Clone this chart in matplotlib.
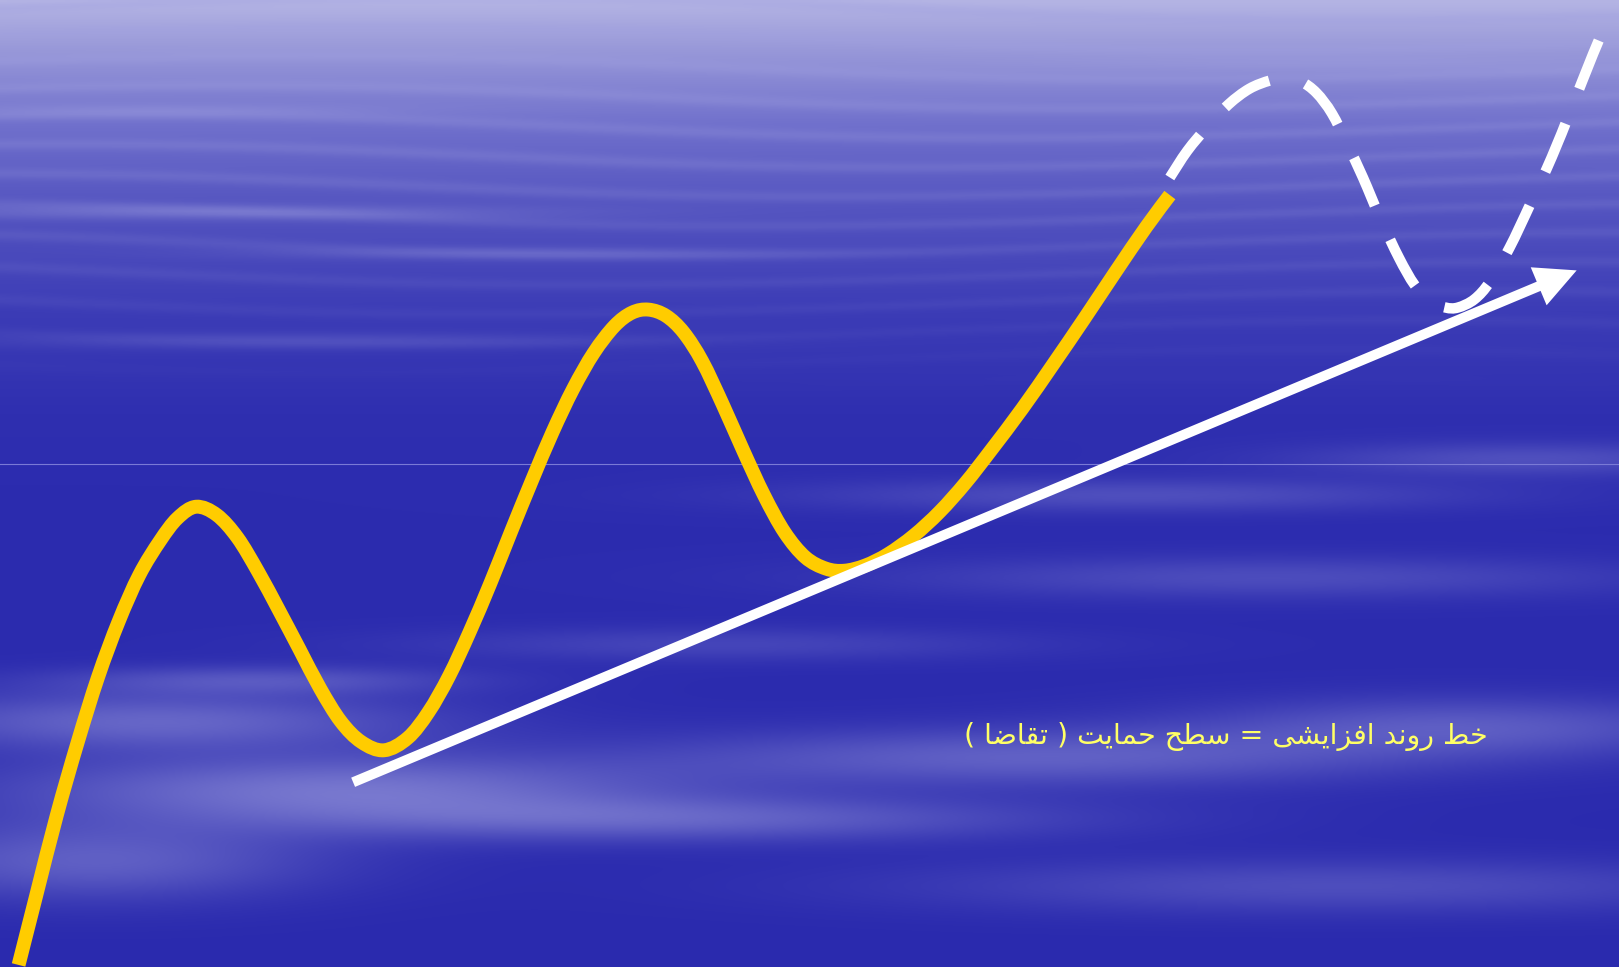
import numpy as np
import matplotlib
matplotlib.use("Agg")
import matplotlib.pyplot as plt
from matplotlib.colors import to_rgb
from matplotlib.path import Path
from matplotlib.patches import PathPatch

# ---------------------------------------------------------------
# DANE (współrzędne, układ 1568 x 937, oś y w dół)
# ---------------------------------------------------------------
W, H = 1568, 937

# krzywa ceny (żółta)
price_x = [18, 35, 55, 75, 95, 115, 135, 155, 172, 190,
           210, 230, 250, 270, 290, 310, 330, 350, 372,
           395, 415, 435, 455, 475, 495, 515, 535, 555, 575, 595, 612, 628,
           645, 662, 680, 700, 720, 740, 760, 780, 800, 818,
           838, 860, 885, 910, 935, 960, 990, 1020, 1050, 1080, 1110, 1133]
price_y = [935, 868, 790, 720, 656, 602, 557, 524, 502, 491,
           499, 521, 554, 591, 629, 667, 699, 719, 727,
           715, 690, 655, 612, 565, 515, 466, 419, 377, 342, 316, 303, 300,
           306, 322, 350, 392, 437, 480, 516, 540, 551, 553,
           548, 537, 519, 496, 468, 436, 396, 353, 309, 264, 220, 189]

# prognoza (biała przerywana)
fcst_x = [1133, 1150, 1170, 1190, 1210, 1230, 1245, 1260, 1275, 1290, 1305,
          1320, 1337, 1355, 1370, 1385, 1400, 1412, 1428, 1443, 1462,
          1482, 1503, 1522, 1543, 1560]
fcst_y = [172, 146, 122, 101, 86, 78, 76, 79, 90, 110, 140,
          172, 212, 250, 276, 292, 298, 298, 290, 273, 240,
          198, 152, 105, 52, 12]

# linia trendu (biała strzałka)
trend_start = (342, 758)
trend_end = (1527, 262)

# tekst (logicznie: "خط روند افزایشی = سطح حمایت ( تقاضا )")
label_text = "خط روند افزایشی = سطح حمایت ( تقاضا )"
label_pos = (1187, 714)

# formy prezentacyjne arabskie, w kolejności logicznej
shaped = ("\uFEA7\uFEC2 "                                   # خط
          "\uFEAD\uFEED\uFEE7\uFEAA "                       # روند
          "\uFE8D\uFED3\uFEB0\uFE8D\uFEF3\uFEB8\uFEF0 "     # افزایشی
          "= "
          "\uFEB3\uFEC4\uFEA2 "                             # سطح
          "\uFEA3\uFEE4\uFE8E\uFEF3\uFE96 "                 # حمایت
          "( \uFE97\uFED8\uFE8E\uFEBF\uFE8E )")             # ( تقاضا )
visual = shaped[::-1].translate(str.maketrans("()", ")("))

# tło: pionowy gradient + jaśniejsze smugi chmur
grad_stops_y = [0, 40, 120, 200, 300, 400, 470, 937]
grad_stops_c = ["#B4B4E4", "#9C9CDA", "#7070CC", "#5454C0",
                "#3C3CB6", "#2F2FB0", "#2C2CAF", "#2A2AAE"]
# (x, y, szer., wys., siła)
clouds = [(150, 700, 260, 28, 0.50), (330, 765, 320, 32, 0.60),
          (650, 795, 380, 22, 0.45), (90, 835, 220, 38, 0.45),
          (1100, 480, 320, 16, 0.30), (1230, 560, 360, 20, 0.28),
          (1480, 445, 220, 16, 0.30), (1000, 735, 360, 28, 0.45),
          (1420, 705, 260, 28, 0.40), (1300, 860, 420, 26, 0.30),
          (700, 625, 300, 16, 0.22), (250, 660, 200, 14, 0.35),
          (200, 205, 320, 7, 0.35), (520, 245, 260, 6, 0.25),
          (300, 330, 300, 8, 0.20), (1300, 60, 300, 8, 0.30),
          (150, 105, 250, 6, 0.30)]

LIGHT = "#A0A0E0"


def make_background():
    ny, nx = 300, 500
    yy = np.linspace(0, H, ny)[:, None]
    xx = np.linspace(0, W, nx)[None, :]
    base = np.zeros((ny, 1, 3))
    cols = np.array([to_rgb(c) for c in grad_stops_c])
    for k in range(3):
        base[:, 0, k] = np.interp(yy[:, 0], grad_stops_y, cols[:, k])
    img = np.repeat(base, nx, axis=1)

    # cienkie poziome smugi w górnej części
    streak = 0.5 + 0.5 * np.sin(yy * 0.22 + 2.5 * np.sin(xx * 0.0035 + yy * 0.01))
    top_w = np.clip(1 - yy / 380, 0, 1) * 0.35
    a = streak ** 3 * top_w
    for (cx, cy, sx, sy, amp) in clouds:
        a = a + amp * np.exp(-((xx - cx) / sx) ** 2 - ((yy - cy) / sy) ** 2)
    a = np.clip(a, 0, 0.75)[..., None]
    light = np.array(to_rgb(LIGHT))
    return img * (1 - a) + light * a


def smooth_path(xs, ys):
    # krzywa Beziera przez punkty (Catmull-Rom)
    pts = np.column_stack([xs, ys]).astype(float)
    n = len(pts)
    verts = [pts[0]]
    codes = [Path.MOVETO]
    for i in range(n - 1):
        p0 = pts[max(i - 1, 0)]
        p1 = pts[i]
        p2 = pts[i + 1]
        p3 = pts[min(i + 2, n - 1)]
        verts += [p1 + (p2 - p0) / 6, p2 - (p3 - p1) / 6, p2]
        codes += [Path.CURVE4] * 3
    return Path(verts, codes)


fig = plt.figure(figsize=(16.19, 9.67), dpi=100)
ax = fig.add_axes([0, 0, 1, 1])
ax.set_xlim(0, W)
ax.set_ylim(H, 0)
ax.axis("off")

ax.imshow(make_background(), extent=(0, W, H, 0), aspect="auto",
          interpolation="bilinear", zorder=0)
ax.axhline(450, color="#7A7AD6", lw=0.8, zorder=1)

ax.add_patch(PathPatch(smooth_path(price_x, price_y), fill=False,
                       edgecolor="#FFCC00", lw=10, capstyle="butt",
                       joinstyle="round", zorder=3))

ax.add_patch(PathPatch(smooth_path(fcst_x, fcst_y), fill=False,
                       edgecolor="white", lw=7.5, linestyle=(0, (5, 3.6)),
                       capstyle="butt", zorder=3))

ax.annotate("", xy=trend_end, xytext=trend_start,
            arrowprops=dict(arrowstyle="-|>,head_length=0.9,head_width=0.45",
                            mutation_scale=20, lw=7.2, color="white",
                            shrinkA=0, shrinkB=0, capstyle="butt",
                            joinstyle="miter"),
            zorder=4)

ax.text(label_pos[0], label_pos[1], visual, color="#FFFF66", fontsize=20.5,
        family="DejaVu Sans", ha="center", va="center", zorder=5)

fig.savefig("out.png", dpi=100)
